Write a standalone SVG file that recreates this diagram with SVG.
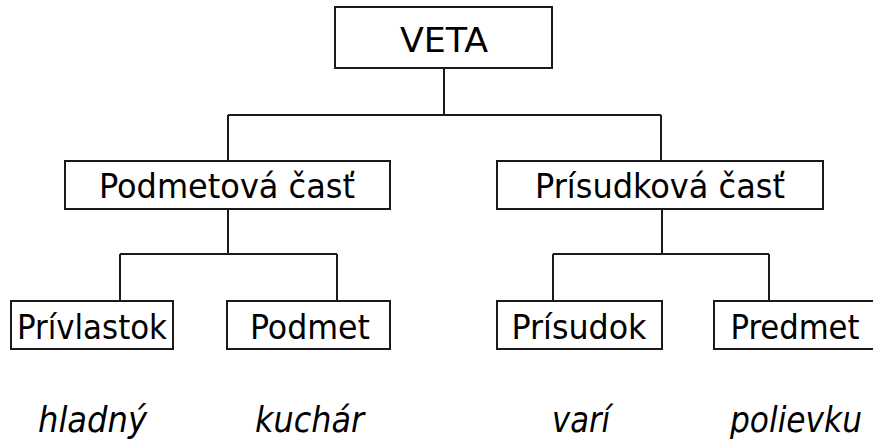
<svg xmlns="http://www.w3.org/2000/svg" width="873" height="443" viewBox="0 0 873 443">
<style>
.box{fill:#fff;stroke:#1a1a1a;stroke-width:2}
.ln{fill:none;stroke:#1a1a1a;stroke-width:2}
.t{font-family:"DejaVu Sans Condensed","DejaVu Sans",sans-serif;font-size:34px;fill:#000;text-anchor:middle}
.i{font-family:"DejaVu Sans Condensed","DejaVu Sans",sans-serif;font-size:35px;font-style:italic;fill:#000}
</style>
<rect width="873" height="443" fill="#fff"/>
<g id="connectors">
<path class="ln" d="M444 68V115M228 115H661M228 115V161M661 115V161"/>
<path class="ln" d="M228 209V254M120 254H337M120 254V301M337 254V301"/>
<path class="ln" d="M662 209V254M553 254H769M553 254V301M769 254V301"/>
</g>
<g id="veta"><rect class="box" x="335" y="7" width="217" height="61"/><text class="t" x="444" y="52" textLength="88" lengthAdjust="spacingAndGlyphs">VETA</text></g>
<g id="podmetova"><rect class="box" x="65" y="161" width="325" height="48"/><text class="t" x="227" y="198" textLength="256" lengthAdjust="spacingAndGlyphs">Podmetová časť</text></g>
<g id="prisudkova"><rect class="box" x="497" y="161" width="326" height="48"/><text class="t" x="660" y="198" textLength="250" lengthAdjust="spacingAndGlyphs">Prísudková časť</text></g>
<g id="privlastok"><rect class="box" x="11" y="301" width="162" height="48"/><text class="t" x="92" y="339" textLength="150" lengthAdjust="spacingAndGlyphs">Prívlastok</text></g>
<g id="podmet"><rect class="box" x="227" y="301" width="163" height="48"/><text class="t" x="310" y="339" textLength="120" lengthAdjust="spacingAndGlyphs">Podmet</text></g>
<g id="prisudok"><rect class="box" x="497" y="301" width="165" height="48"/><text class="t" x="579" y="339" textLength="135" lengthAdjust="spacingAndGlyphs">Prísudok</text></g>
<g id="predmet"><rect class="box" x="714" y="301" width="170" height="48"/><text class="t" x="795" y="339" textLength="129" lengthAdjust="spacingAndGlyphs">Predmet</text></g>
<g id="words">
<text class="i" x="38" y="432" textLength="109" lengthAdjust="spacingAndGlyphs">hladný</text>
<text class="i" x="255" y="432" textLength="109" lengthAdjust="spacingAndGlyphs">kuchár</text>
<text class="i" x="552" y="432" textLength="58" lengthAdjust="spacingAndGlyphs">varí</text>
<text class="i" x="730" y="432" textLength="132" lengthAdjust="spacingAndGlyphs">polievku</text>
</g>
</svg>
